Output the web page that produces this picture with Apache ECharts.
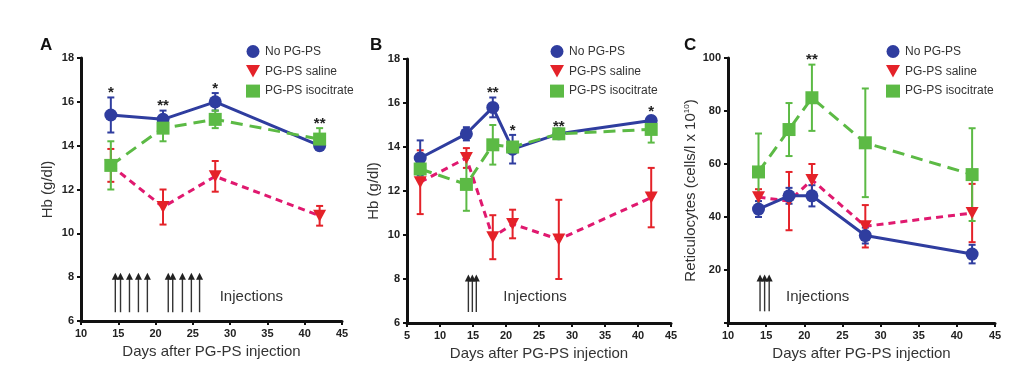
<!DOCTYPE html>
<html><head><meta charset="utf-8">
<script src="https://cdn.jsdelivr.net/npm/echarts@6/dist/echarts.min.js"></script>
<style>html,body{margin:0;padding:0;background:#fff}#c{width:1024px;height:365px}</style>
</head><body><div id="c"></div>
<script>
// ---------- Panel A ----------
const daysA = [14, 21, 28, 42];
const noPGPS_A = [15.4, 15.2, 16.0, 14.0];
const noPGPS_A_err = [0.8, 0.4, 0.4, 0.1];
const saline_A = [13.1, 11.2, 12.6, 10.8];
const saline_A_err = [0.75, 0.8, 0.7, 0.45];
const iso_A = [13.1, 14.8, 15.2, 14.3];
const iso_A_err = [1.1, 0.6, 0.4, 0.5];
const starsA = [[14, '*'], [21, '**'], [28, '*'], [42, '**']];
const injA = [14.6, 15.3, 16.5, 17.7, 18.9, 21.7, 22.3, 23.6, 24.8, 25.9];
const xTicksA = [10, 45, 5];
const yTicksA = [6, 18, 2];

// ---------- Panel B ----------
const daysB = [7, 14, 18, 21, 28, 42];
const noPGPS_B = [13.5, 14.6, 15.8, 13.9, 14.6, 15.2];
const noPGPS_B_err = [0.8, 0.3, 0.45, 0.65, 0.1, 0.1];
const saline_B = [12.4, 13.5, 9.9, 10.5, 9.8, 11.7];
const saline_B_err = [1.45, 0.45, 1.0, 0.65, 1.8, 1.35];
const iso_B = [13.0, 12.3, 14.1, 14.0, 14.6, 14.8];
const iso_B_err = [0.4, 1.2, 0.9, 0.2, 0.1, 0.6];
const starsB = [[18, '**'], [21, '*'], [28, '**'], [42, '*']];
const injB = [14.3, 14.9, 15.5];
const xTicksB = [5, 45, 5];
const yTicksB = [6, 18, 2];

// ---------- Panel C ----------
const daysC = [14, 18, 21, 28, 42];
const noPGPS_C = [43, 48, 48, 33, 26];
const noPGPS_C_err = [3, 3, 4, 3, 3.5];
const saline_C = [47.5, 46, 54, 36.5, 41.5];
const saline_C_err = [3, 11, 6, 8, 11];
const iso_C = [57, 73, 85, 68, 56];
const iso_C_err = [14.5, 10, 12.5, 20.5, 17.5];
const starsC = [[21, '**']];
const injC = [14.2, 14.8, 15.4];
const xTicksC = [10, 45, 5];
const yTicksC = [0, 100, 20];

const groupNames = ['No PG-PS', 'PG-PS saline', 'PG-PS isocitrate'];

// ---------- styling ----------
const BLUE = '#2f3d9f', RED = '#e42229', PINK = '#e0196f', GREEN = '#5cba45';
const FONT = 'Liberation Sans, Arial, Helvetica, sans-serif';
const triPath = 'path://M0,0L10,0L5,9Z';

const panels = [
  {days: daysA, blue: [noPGPS_A, noPGPS_A_err], red: [saline_A, saline_A_err], green: [iso_A, iso_A_err],
   stars: starsA, inj: injA, injRange: [6.4, 8.2], injText: [28.6, 7.1], xt: xTicksA, yt: yTicksA,
   grid: {left: 81, top: 58, width: 261, height: 263}, yName: 'Hb (g/dl)', letter: 'A', lx: 40, legLeft: 241},
  {days: daysB, blue: [noPGPS_B, noPGPS_B_err], red: [saline_B, saline_B_err], green: [iso_B, iso_B_err],
   stars: starsB, inj: injB, injRange: [6.5, 8.2], injText: [19.6, 7.2], xt: xTicksB, yt: yTicksB,
   grid: {left: 407, top: 59, width: 264, height: 264}, yName: 'Hb (g/dl)', letter: 'B', lx: 370, legLeft: 545},
  {days: daysC, blue: [noPGPS_C, noPGPS_C_err], red: [saline_C, saline_C_err], green: [iso_C, iso_C_err],
   stars: starsC, inj: injC, injRange: [4.4, 18.3], injText: [17.6, 10], xt: xTicksC, yt: yTicksC,
   grid: {left: 728, top: 58, width: 267, height: 265}, yName: 'Reticulocytes (cells/l x 10{sup|10})', letter: 'C', lx: 684, legLeft: 881}
];

function errSeries(pi, days, vals, errs, color) {
  return {
    type: 'custom', xAxisIndex: pi, yAxisIndex: pi, z: 3, silent: true,
    data: days.map((d, i) => [d, vals[i], errs[i]]),
    encode: {x: 0, y: 1},
    renderItem: function (params, api) {
      const x = api.value(0), m = api.value(1), e = api.value(2);
      const t = api.coord([x, m + e]), b = api.coord([x, m - e]);
      const w = 3.5, st = {stroke: color, lineWidth: 2};
      return {type: 'group', children: [
        {type: 'line', shape: {x1: t[0], y1: t[1], x2: b[0], y2: b[1]}, style: st},
        {type: 'line', shape: {x1: t[0] - w, y1: t[1], x2: t[0] + w, y2: t[1]}, style: st},
        {type: 'line', shape: {x1: b[0] - w, y1: b[1], x2: b[0] + w, y2: b[1]}, style: st}
      ]};
    }
  };
}

const grids = [], xAxes = [], yAxes = [], series = [], legends = [], graphics = [];
panels.forEach((p, pi) => {
  grids.push(Object.assign({containLabel: false, outerBoundsMode: 'none'}, p.grid));
  xAxes.push({
    type: 'value', gridIndex: pi, min: p.xt[0], max: p.xt[1], interval: p.xt[2],
    name: 'Days after PG-PS injection', nameLocation: 'middle', nameGap: 23,
    nameTextStyle: {fontFamily: FONT, fontSize: 15, color: '#333'},
    axisLine: {lineStyle: {color: '#111', width: 3}},
    axisTick: {length: 4, lineStyle: {color: '#111', width: 2}},
    axisLabel: {fontFamily: FONT, fontSize: 11, fontWeight: 'bold', color: '#222', margin: 7},
    splitLine: {show: false}
  });
  yAxes.push({
    type: 'value', gridIndex: pi, min: p.yt[0], max: p.yt[1], interval: p.yt[2],
    name: p.yName, nameLocation: 'middle', nameGap: pi === 2 ? 30 : 26,
    nameTextStyle: {fontFamily: FONT, fontSize: 15, color: '#333',
      rich: {sup: {fontFamily: FONT, fontSize: 8, color: '#333', verticalAlign: 'top', lineHeight: 8}}},
    axisLine: {show: true, lineStyle: {color: '#111', width: 3}},
    axisTick: {show: true, length: 4, lineStyle: {color: '#111', width: 2}},
    axisLabel: {fontFamily: FONT, fontSize: 11, fontWeight: 'bold', color: '#222', margin: 7,
      formatter: v => (pi === 2 && v === 0) ? '' : String(v)},
    splitLine: {show: false}
  });
  // error bars
  series.push(errSeries(pi, p.days, p.red[0], p.red[1], RED));
  series.push(errSeries(pi, p.days, p.blue[0], p.blue[1], BLUE));
  series.push(errSeries(pi, p.days, p.green[0], p.green[1], GREEN));
  // lines
  series.push({
    name: groupNames[1], type: 'line', xAxisIndex: pi, yAxisIndex: pi, z: 4,
    data: p.days.map((d, i) => [d, p.red[0][i]]),
    symbol: triPath, symbolSize: [13, 12], showAllSymbol: true,
    itemStyle: {color: RED}, lineStyle: {color: PINK, width: 3, type: [7, 5]}
  });
  series.push({
    name: groupNames[0], type: 'line', xAxisIndex: pi, yAxisIndex: pi, z: 5,
    data: p.days.map((d, i) => [d, p.blue[0][i]]),
    symbol: 'circle', symbolSize: 13, showAllSymbol: true,
    itemStyle: {color: BLUE}, lineStyle: {color: BLUE, width: 3}
  });
  series.push({
    name: groupNames[2], type: 'line', xAxisIndex: pi, yAxisIndex: pi, z: 6,
    data: p.days.map((d, i) => [d, p.green[0][i]]),
    symbol: 'rect', symbolSize: 13, showAllSymbol: true,
    itemStyle: {color: GREEN}, lineStyle: {color: GREEN, width: 3, type: [12, 7]}
  });
  // significance stars, placed above the highest error bar at that day
  const starData = p.stars.map(s => {
    const i = p.days.indexOf(s[0]);
    const top = Math.max(p.blue[0][i] + p.blue[1][i], p.red[0][i] + p.red[1][i], p.green[0][i] + p.green[1][i]);
    return [s[0], top];
  });
  series.push({
    type: 'custom', xAxisIndex: pi, yAxisIndex: pi, z: 7, silent: true, data: starData, encode: {x: 0, y: 1},
    renderItem: function (params, api) {
      const c = api.coord([api.value(0), api.value(1)]);
      return {type: 'text', x: c[0], y: c[1] + 3, style: {text: p.stars[params.dataIndex][1],
        fontFamily: FONT, fontSize: 15, fontWeight: 'bold', fill: '#222', align: 'center', verticalAlign: 'bottom'}};
    }
  });
  // injection arrows
  series.push({
    type: 'custom', xAxisIndex: pi, yAxisIndex: pi, z: 2, silent: true, data: p.inj.map(x => [x, p.injRange[0]]),
    encode: {x: 0, y: 1},
    renderItem: function (params, api) {
      const x = api.value(0);
      const b = api.coord([x, p.injRange[0]]), t = api.coord([x, p.injRange[1]]);
      return {type: 'group', children: [
        {type: 'line', shape: {x1: b[0], y1: b[1], x2: t[0], y2: t[1] + 5}, style: {stroke: '#333', lineWidth: 1.4}},
        {type: 'polygon', shape: {points: [[t[0], t[1]], [t[0] - 3.5, t[1] + 7], [t[0] + 3.5, t[1] + 7]]}, style: {fill: '#222'}}
      ]};
    }
  });
  // "Injections" label
  series.push({
    type: 'custom', xAxisIndex: pi, yAxisIndex: pi, z: 2, silent: true, data: [p.injText], encode: {x: 0, y: 1},
    renderItem: function (params, api) {
      const c = api.coord([api.value(0), api.value(1)]);
      return {type: 'text', x: c[0], y: c[1], style: {text: 'Injections', fontFamily: FONT, fontSize: 15,
        fill: '#333', align: 'left', verticalAlign: 'middle'}};
    }
  });
  legends.push({
    orient: 'vertical', left: p.legLeft, top: 40, itemWidth: 14, itemHeight: 13, itemGap: 7,
    selectedMode: false, textStyle: {fontFamily: FONT, fontSize: 12, color: '#333'},
    data: [{name: groupNames[0], icon: 'circle'}, {name: groupNames[1], icon: triPath}, {name: groupNames[2], icon: 'rect'}]
  });
  graphics.push({type: 'text', left: p.lx, top: 37, style: {text: p.letter, fontFamily: FONT, fontSize: 17, fontWeight: 'bold', fill: '#111'}});
});

const chart = echarts.init(document.getElementById('c'), null, {renderer: 'canvas'});
chart.setOption({
  animation: false, backgroundColor: '#fff',
  grid: grids, xAxis: xAxes, yAxis: yAxes, series: series, legend: legends, graphic: graphics
});
</script></body></html>
